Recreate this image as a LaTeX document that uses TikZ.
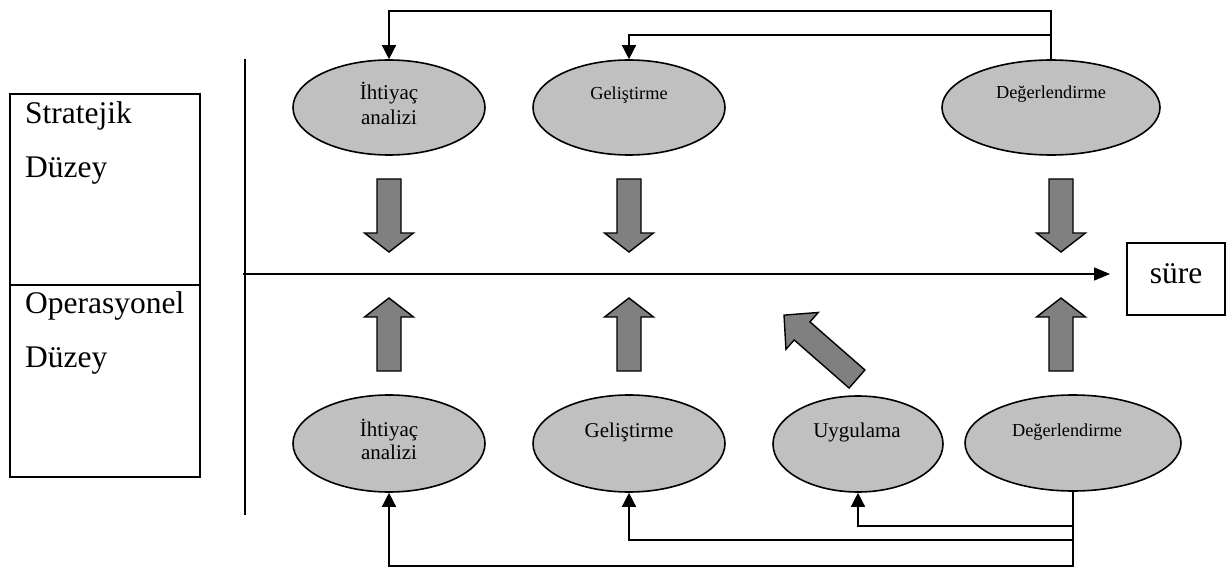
\documentclass[tikz,border=0pt]{standalone}
\usepackage{fontspec}
\setmainfont{Liberation Serif}
\usetikzlibrary{shapes.geometric,arrows.meta}
\definecolor{ellfill}{HTML}{C0C0C0}
\definecolor{arrfill}{HTML}{808080}
\begin{document}
\begin{tikzpicture}[x=1pt,y=-1pt,
  ell/.style={ellipse,draw,line width=1.6pt,fill=ellfill,inner sep=0pt},
  fb/.style={line width=1.4pt,-{Triangle[length=14pt,width=14pt]}},
  axisline/.style={line width=1.4pt},
  barr/.style={draw,line width=1.4pt,fill=arrfill,line join=miter},
  lvlbox/.style={draw,line width=1.6pt,minimum width=190pt,inner sep=0pt},
  lvl/.style={font=\fontsize{31.5}{36}\selectfont,anchor=base west,inner sep=0pt},
  bigt/.style={font=\fontsize{21}{25}\selectfont,anchor=base,inner sep=0pt},
  smallt/.style={font=\fontsize{18.3}{22}\selectfont,anchor=base,inner sep=0pt},
  pics/bigarr/.style n args={2}{code={\draw[barr] (0,-12) -- ({#1-#2},-12) -- ({#1-#2},-24.5) -- (#1,0) -- ({#1-#2},24.5) -- ({#1-#2},12) -- (0,12) -- cycle;}}
]
\useasboundingbox (0,0) rectangle (1227,567);

% level boxes
\node[lvlbox,minimum height=191pt] (strat) at (105,189.5) {};
\node[lvlbox,minimum height=192pt] (oper) at (105,381) {};
\node[lvl] (l1) at (25,124) {Stratejik};
\node[lvl] (l2) at (25,178) {Düzey};
\node[lvl] (l3) at (25,313) {Operasyonel};
\node[lvl] (l4) at (25,367) {Düzey};

% axes
\coordinate (vtop) at (245,59);
\coordinate (vbot) at (245,515);
\draw[axisline] (vtop) -- (vbot);
\coordinate (hstart) at (243,274);
\coordinate (hend) at (1110,274);
\draw[axisline,-{Triangle[length=16pt,width=13pt]}] (hstart) -- (hend);
\node[draw,line width=1.4pt,minimum width=98pt,minimum height=72pt,inner sep=0pt] (sure) at (1176,279) {};
\node[lvl,anchor=base] (suret) at (1176,283) {süre};

% top ellipses
\node[ell,minimum width=192pt,minimum height=95pt] (t1) at (389,107.5) {};
\node[ell,minimum width=192pt,minimum height=95pt] (t2) at (629,107.5) {};
\node[ell,minimum width=218pt,minimum height=95pt] (t3) at (1051,107.5) {};
\node[bigt] (t1a) at (389,100) {İhtiyaç};
\node[bigt] (t1b) at (389,125) {analizi};
\node[smallt] (t2a) at (629,99.5) {Geliştirme};
\node[smallt] (t3a) at (1051,99) {Değerlendirme};

% bottom ellipses
\node[ell,minimum width=192pt,minimum height=97pt] (b1) at (389,443.5) {};
\node[ell,minimum width=192pt,minimum height=97pt] (b2) at (629,443.5) {};
\node[ell,minimum width=170pt,minimum height=96pt] (b3) at (858,444) {};
\node[ell,minimum width=216pt,minimum height=96pt] (b4) at (1073,443) {};
\node[bigt] (b1a) at (389,436) {İhtiyaç};
\node[bigt] (b1b) at (389,459) {analizi};
\node[bigt] (b2a) at (629,437.5) {Geliştirme};
\node[bigt] (b3a) at (857,437) {Uygulama};
\node[smallt] (b4a) at (1067,436) {Değerlendirme};

% big arrows
\pic[rotate=-90] at (389,179) {bigarr={73}{19}};
\pic[rotate=-90] at (629,179) {bigarr={73}{19}};
\pic[rotate=-90] at (1061,179) {bigarr={73}{19}};
\pic[rotate=90] at (389,371) {bigarr={73}{19}};
\pic[rotate=90] at (629,371) {bigarr={73}{19}};
\pic[rotate=90] at (1061,371) {bigarr={73}{19}};
\pic[rotate=138.8] at (857,379) {bigarr={97}{24}};

% feedback connectors (top)
\draw[fb] (t3.north) -- ++(0,-48) -| (t1.north);
\coordinate (j2) at (1051,35);
\draw[fb] (j2) -| (t2.north);

% feedback connectors (bottom)
\draw[fb] (b4.south) -- ++(0,74) -| (b1.south);
\path (b4.south) ++(0,48) coordinate (j3) ++(0,-14) coordinate (j4);
\draw[fb] (j3) -| (b2.south);
\draw[fb] (j4) -| (b3.south);
\end{tikzpicture}
\end{document}
